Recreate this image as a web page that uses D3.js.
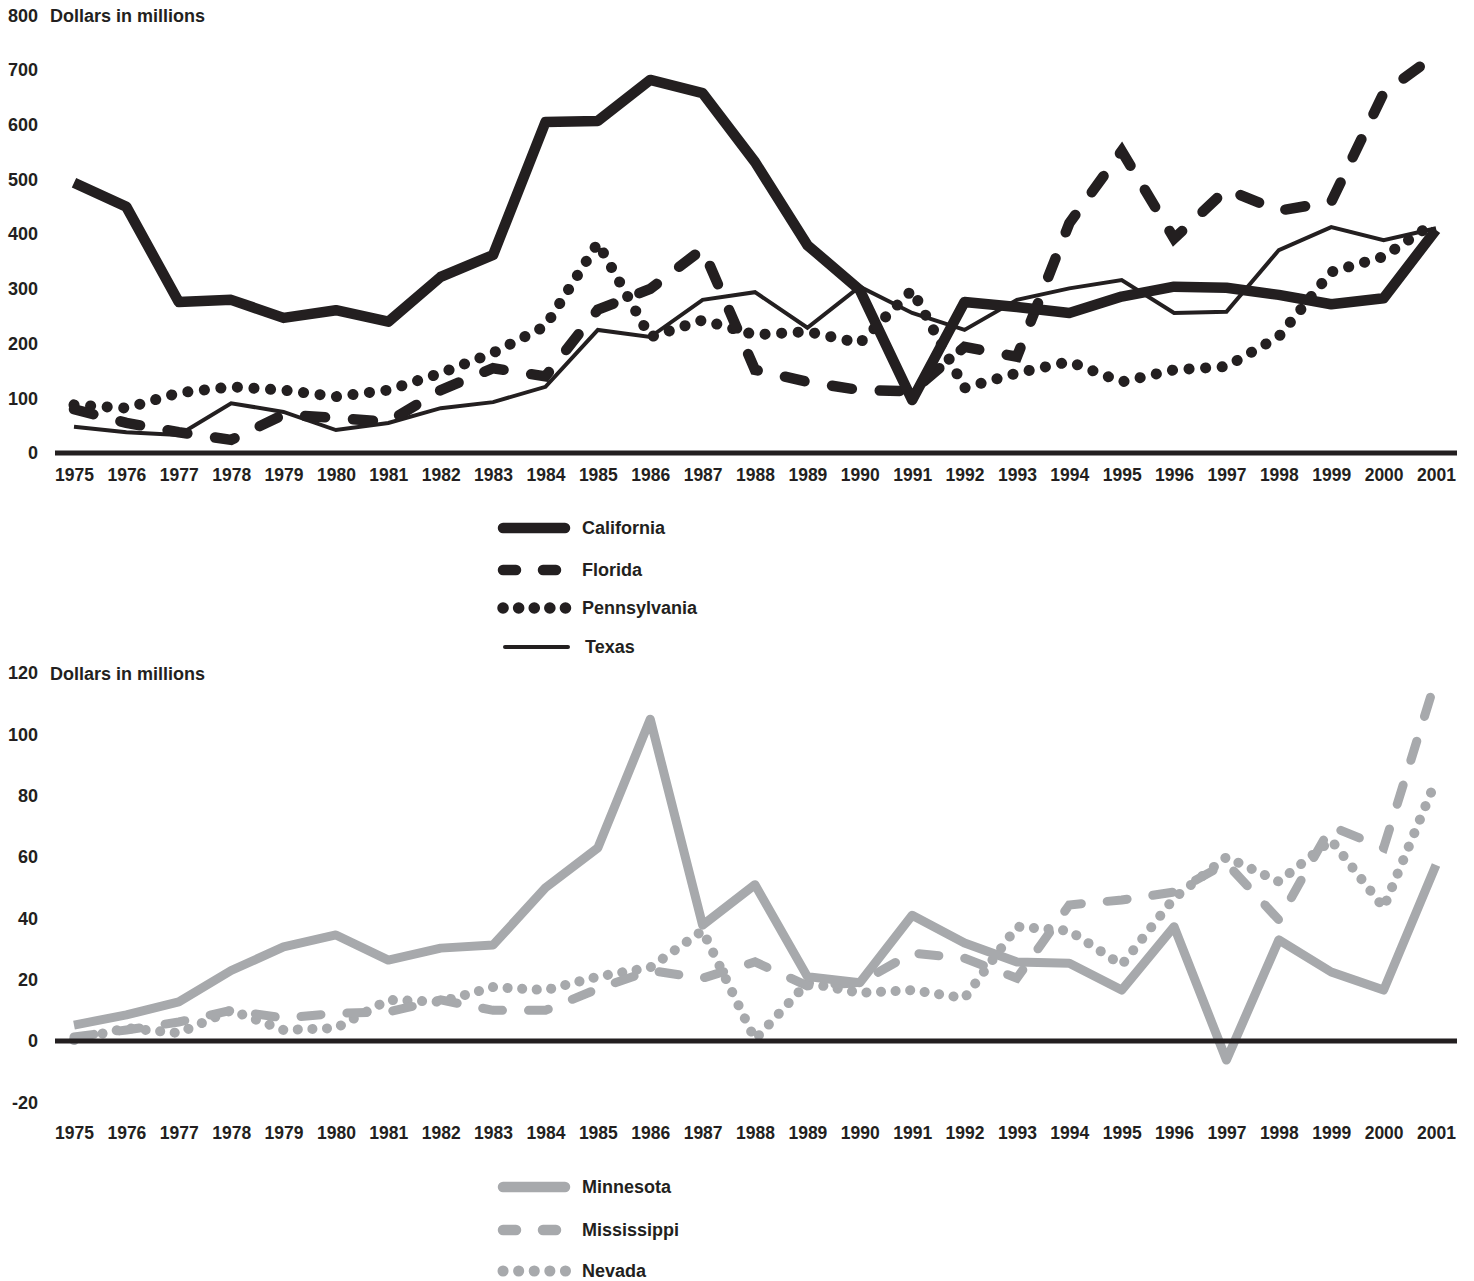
<!DOCTYPE html>
<html>
<head>
<meta charset="utf-8">
<style>
  body { margin: 0; background: #fff; }
  svg text { font-family: "Liberation Sans", Arial, sans-serif; font-weight: bold; fill: #231f20; }
</style>
</head>
<body>
<div id="chart"></div>
<script src="https://d3js.org/d3.v7.min.js"></script>
<script>
// values, dollars in millions
const years = d3.range(1975, 2002);

const california   = [494, 450, 276, 280, 247, 261, 240, 322, 362, 605, 607, 682, 658, 532, 380, 298, 97, 276, 267, 256, 286, 304, 302, 289, 272, 283, 408];
const florida      = [80, 55, 38, 24, 70, 64, 57, 115, 155, 140, 262, 300, 373, 152, 130, 115, 113, 194, 176, 420, 552, 392, 482, 443, 459, 658, 728];
const pennsylvania = [88, 82, 110, 121, 115, 103, 115, 146, 183, 232, 384, 212, 243, 216, 222, 201, 298, 119, 146, 167, 130, 152, 158, 213, 331, 359, 423];
const texas        = [48, 38, 33, 91, 75, 42, 55, 82, 93, 121, 225, 212, 280, 294, 229, 304, 256, 225, 280, 301, 316, 256, 258, 371, 413, 389, 411];

const minnesota    = [5.2, 8.5, 12.8, 23, 30.7, 34.6, 26.4, 30.3, 31.3, 50, 63, 105, 37.8, 51, 21, 19, 41, 32, 25.8, 25.4, 16.6, 37.3, -6.2, 33, 22.5, 16.6, 57.4];
const mississippi  = [1.3, 3.6, 6.2, 10, 7.5, 9, 9.5, 13.4, 10, 10, 17, 23, 20.5, 25.8, 18, 19, 28.7, 27, 20.5, 44.4, 46, 48.6, 58, 39.5, 70, 63, 118];
const nevada       = [0.3, 4.2, 2.6, 10, 3.6, 4.2, 13.4, 12.8, 17.6, 16.6, 21, 24, 36, 0.5, 19, 15.7, 16.6, 14, 37.3, 36, 24.8, 46.6, 60, 52, 65.5, 43.5, 85];

const topTicks = [0, 100, 200, 300, 400, 500, 600, 700, 800];
const bottomTicks = [-20, 0, 20, 40, 60, 80, 100, 120];
const unitLabel = "Dollars in millions";

const BLACK = "#231f20", GREY = "#a7a9ac";
const FONT = 18;

const width = 1474, height = 1281;
const svg = d3.select("#chart").append("svg")
  .attr("width", width).attr("height", height)
  .attr("viewBox", `0 0 ${width} ${height}`);

const x = d3.scalePoint().domain(years).range([74, 1436]);

function panel(yScale, ticks, xLabelY, series) {
  const g = svg.append("g");

  // y tick labels (plain hyphen for negatives, as in the original)
  g.append("g")
    .attr("transform", "translate(38,0)")
    .call(d3.axisLeft(yScale).tickValues(ticks).tickSize(0).tickPadding(0).tickFormat(d => String(d)))
    .call(a => a.select(".domain").remove())
    .selectAll("text")
      .attr("font-size", FONT).attr("font-family", null).attr("fill", BLACK);

  g.append("text")
    .attr("x", 50).attr("y", yScale(ticks[ticks.length - 1])).attr("dy", "0.35em")
    .attr("font-size", FONT).text(unitLabel);

  // x labels
  g.append("g")
    .attr("transform", `translate(0,${xLabelY})`)
    .call(d3.axisBottom(x).tickSize(0).tickPadding(0))
    .call(a => a.select(".domain").remove())
    .selectAll("text")
      .attr("font-size", 17.5).attr("font-family", null).attr("fill", BLACK).attr("dy", "0.35em");

  // lines
  series.forEach(s => {
    const line = d3.line().x((d, i) => x(years[i])).y(d => yScale(d));
    g.append("path")
      .datum(s.values)
      .attr("d", line)
      .attr("fill", "none")
      .attr("stroke", s.color)
      .attr("stroke-width", s.width)
      .attr("stroke-linejoin", s.join || "miter")
      .attr("stroke-linecap", s.dash ? "round" : "butt")
      .attr("stroke-dasharray", s.dash || null);
  });

  // zero line
  g.append("line")
    .attr("x1", 55).attr("x2", 1457)
    .attr("y1", yScale(0)).attr("y2", yScale(0))
    .attr("stroke", BLACK).attr("stroke-width", 5);
}

function legend(items, x0, y0s) {
  const g = svg.append("g");
  items.forEach((s, i) => {
    const y = y0s[i];
    g.append("line")
      .attr("x1", s.lx1 || 503).attr("x2", s.lx2 || 565)
      .attr("y1", y).attr("y2", y)
      .attr("stroke", s.color).attr("stroke-width", s.legendWidth || s.width)
      .attr("stroke-linecap", "round")
      .attr("stroke-dasharray", s.legendDash || null);
    g.append("text")
      .attr("x", s.tx || x0).attr("y", y).attr("dy", "0.35em")
      .attr("font-size", FONT).text(s.name);
  });
}

const yTop = d3.scaleLinear().domain([0, 800]).range([453, 15.4]);
const yBottom = d3.scaleLinear().domain([-20, 120]).range([1102.3, 673.2]);

const topSeries = [
  { name: "Texas", values: texas, color: BLACK, width: 4, legendWidth: 4, lx1: 505, lx2: 568, tx: 585 },
  { name: "Pennsylvania", values: pennsylvania, color: BLACK, width: 11, dash: "0.1,16.5", legendDash: "0.1,15.5", legendWidth: 11.5, lx2: 566 },
  { name: "Florida", values: florida, color: BLACK, width: 10.5, dash: "20,28", legendDash: "13,27", legendWidth: 10.5 },
  { name: "California", values: california, color: BLACK, width: 10.5, join: "round", legendWidth: 10.5 }
];
const bottomSeries = [
  { name: "Nevada", values: nevada, color: GREY, width: 10, dash: "0.1,14.5", legendDash: "0.1,15.5", legendWidth: 11, lx2: 566 },
  { name: "Mississippi", values: mississippi, color: GREY, width: 9, dash: "20,26", legendDash: "13,27", legendWidth: 10.5 },
  { name: "Minnesota", values: minnesota, color: GREY, width: 9, join: "round", legendWidth: 10.5 }
];

panel(yTop, topTicks, 475, topSeries);
panel(yBottom, bottomTicks, 1133, bottomSeries);

legend([topSeries[3], topSeries[2], topSeries[1], topSeries[0]], 582, [528, 570, 608, 647]);
legend([bottomSeries[2], bottomSeries[1], bottomSeries[0]], 582, [1187, 1230, 1271]);
</script>
</body>
</html>
